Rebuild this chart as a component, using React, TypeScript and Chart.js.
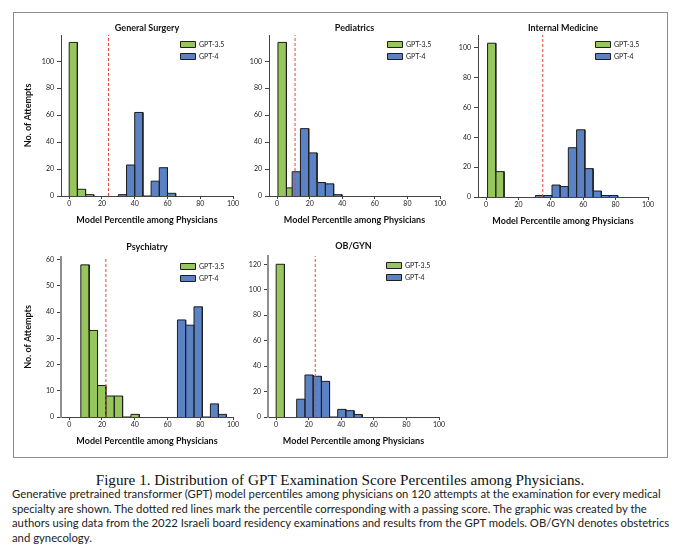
import React, { useEffect, useRef } from 'react';
import { Chart, registerables } from 'chart.js';

Chart.register(...registerables);

// ---------- data ----------
const SERIES_LABELS = ['GPT-3.5', 'GPT-4'];
const PANEL_TITLES = ['General Surgery', 'Pediatrics', 'Internal Medicine', 'Psychiatry', 'OB/GYN'];
const Y_AXIS_TITLE = 'No. of Attempts';
const X_AXIS_TITLE = 'Model Percentile among Physicians';
const X_RANGE = [-5, 100];
const X_TICKS = [0, 20, 40, 60, 80, 100];
const Y_MAX = [119.5, 119.5, 108.5, 61, 126.5];
const Y_TICKS_100 = [0, 20, 40, 60, 80, 100];
const Y_TICKS_60 = [0, 10, 20, 30, 40, 50, 60];
const Y_TICKS_120 = [0, 20, 40, 60, 80, 100, 120];
const Y_TICKS = [Y_TICKS_100, Y_TICKS_100, Y_TICKS_100, Y_TICKS_60, Y_TICKS_120];

// General Surgery
const surgeryGpt35Edges = [0, 5, 10, 15];
const surgeryGpt35Counts = [114, 5, 1];
const surgeryGpt4Edges = [30, 35, 40, 45, 50, 55, 60, 65];
const surgeryGpt4Counts = [1, 23, 62, 0, 11, 21, 2];
const surgeryPass = 24;

// Pediatrics
const pediatricsGpt35Edges = [0.5, 5.7, 10.9];
const pediatricsGpt35Counts = [114, 6];
const pediatricsGpt4Edges = [9.2, 14.3, 19.4, 24.5, 29.6, 34.7, 39.8];
const pediatricsGpt4Counts = [18, 50, 32, 10, 9, 1];
const pediatricsPass = 11;

// Internal Medicine
const internalGpt35Edges = [0.9, 6, 11.1];
const internalGpt35Counts = [103, 17];
const internalGpt4Edges = [30.5, 35.6, 40.7, 45.7, 50.8, 55.9, 61, 66.1, 71.2, 76.2, 81.3];
const internalGpt4Counts = [1, 1, 8, 7, 33, 45, 19, 4, 1, 1];
const internalPass = 35;

// Psychiatry
const psychiatryGpt35Edges = [7.1, 12.2, 17.3, 22.4, 27.5, 32.6, 37.7, 42.8];
const psychiatryGpt35Counts = [58, 33, 12, 8, 8, 0, 1];
const psychiatryGpt4Edges = [66.1, 71.1, 76.2, 81.3, 86.2, 91.1, 96];
const psychiatryGpt4Counts = [37, 35, 42, 0, 5, 1];
const psychiatryPass = 22.4;

// OB/GYN
const obgynGpt35Edges = [0, 5.1];
const obgynGpt35Counts = [120];
const obgynGpt4Edges = [12.6, 17.7, 22.7, 27.8, 32.8, 37.8, 42.8, 47.8, 52.8];
const obgynGpt4Counts = [14, 33, 32, 28, 0, 6, 5, 2];
const obgynPass = 24;

const PANEL_DATA = [
  { e35: surgeryGpt35Edges, c35: surgeryGpt35Counts, e4: surgeryGpt4Edges, c4: surgeryGpt4Counts, pass: surgeryPass },
  { e35: pediatricsGpt35Edges, c35: pediatricsGpt35Counts, e4: pediatricsGpt4Edges, c4: pediatricsGpt4Counts, pass: pediatricsPass },
  { e35: internalGpt35Edges, c35: internalGpt35Counts, e4: internalGpt4Edges, c4: internalGpt4Counts, pass: internalPass },
  { e35: psychiatryGpt35Edges, c35: psychiatryGpt35Counts, e4: psychiatryGpt4Edges, c4: psychiatryGpt4Counts, pass: psychiatryPass },
  { e35: obgynGpt35Edges, c35: obgynGpt35Counts, e4: obgynGpt4Edges, c4: obgynGpt4Counts, pass: obgynPass },
];

// ---------- layout / style ----------
// target plot-area rectangles in page pixels
const PANEL_BOXES = [
  { L: 61, T: 35, R: 233, B: 196, yTitle: true, yAxisColor: '#444', yAxisWidth: 1, titleGap: 1.6 },
  { L: 269, T: 35, R: 440, B: 196, yTitle: false, yAxisColor: '#444', yAxisWidth: 1, titleGap: 1.6 },
  { L: 478, T: 35, R: 648, B: 197, yTitle: false, yAxisColor: '#444', yAxisWidth: 1, titleGap: 1.6 },
  { L: 61, T: 257, R: 233, B: 417, yTitle: true, yAxisColor: '#8f8f8f', yAxisWidth: 2, titleGap: 5 },
  { L: 268, T: 256, R: 439, B: 417, yTitle: false, yAxisColor: '#8f8f8f', yAxisWidth: 2, titleGap: 5 },
];

const GREEN = '#97c65c';
const BLUE = '#5a82c4';
const EDGE = '#1e1e1e';
const RED = '#e6473d';
const FONT = 'Lato, "Open Sans", sans-serif';

const CAPTION_TITLE = 'Figure 1. Distribution of GPT Examination Score Percentiles among Physicians.';
const CAPTION_LINES = [
  'Generative pretrained transformer (GPT) model percentiles among physicians on 120 attempts at the examination for every medical',
  'specialty are shown. The dotted red lines mark the percentile corresponding with a passing score. The graphic was created by the',
  'authors using data from the 2022 Israeli board residency examinations and results from the GPT models. OB/GYN denotes obstetrics',
  'and gynecology.',
];

function histPoints(edges: number[], counts: number[]) {
  const pts: { x: number; y: number }[] = [];
  for (let i = 0; i < counts.length; i++) {
    pts.push({ x: edges[i], y: 0 });
    pts.push({ x: edges[i], y: counts[i] });
    pts.push({ x: edges[i + 1], y: counts[i] });
    pts.push({ x: edges[i + 1], y: 0 });
  }
  return pts;
}

const placeBoxesPlugin = {
  id: 'placeBoxes',
  afterLayout(chart: any) {
    const ca = chart.chartArea;
    const t = chart.titleBlock;
    if (t) {
      t.left = ca.left;
      t.right = ca.right;
      t.width = ca.right - ca.left;
    }
    const lg = chart.legend;
    if (lg) {
      const w = lg.width;
      lg.left = ca.right - 57.5;
      lg.right = lg.left + w;
      lg.width = w;
      lg.top = ca.top + 1;
      lg.height = 40;
      lg.bottom = lg.top + 40;
    }
  },
};

function Panel({ index }: { index: number }) {
  const ref = useRef<HTMLCanvasElement>(null);
  const box = PANEL_BOXES[index];
  const d = PANEL_DATA[index];
  const width = box.R - box.L + 56;
  const height = box.B - box.T + 51;

  useEffect(() => {
    const yMax = Y_MAX[index];
    const yTicks = Y_TICKS[index];
    const chart = new Chart(ref.current!, {
      type: 'line',
      data: {
        datasets: [
          {
            label: SERIES_LABELS[0],
            data: histPoints(d.e35, d.c35),
            backgroundColor: GREEN,
            borderColor: EDGE,
            borderWidth: 1,
            fill: 'origin',
            pointRadius: 0,
            tension: 0,
            order: 2,
          },
          {
            label: SERIES_LABELS[1],
            data: histPoints(d.e4, d.c4),
            backgroundColor: BLUE,
            borderColor: EDGE,
            borderWidth: 1,
            fill: 'origin',
            pointRadius: 0,
            tension: 0,
            order: 1,
          },
          {
            label: 'pass',
            data: [
              { x: d.pass, y: 0 },
              { x: d.pass, y: yMax },
            ],
            borderColor: RED,
            backgroundColor: RED,
            borderWidth: 1,
            borderDash: [3, 2],
            fill: false,
            pointRadius: 0,
            order: 0,
          },
        ],
      },
      options: {
        responsive: false,
        animation: false,
        devicePixelRatio: 1,
        layout: { padding: { left: 6, right: 12, top: 9.2 - box.titleGap, bottom: 2 } },
        plugins: {
          tooltip: { enabled: false },
          title: {
            display: true,
            text: PANEL_TITLES[index],
            color: '#111',
            font: { family: FONT, size: 9, weight: 'bold' },
            padding: { top: 0, bottom: box.titleGap },
          },
          legend: {
            display: true,
            position: 'chartArea',
            align: 'start',
            labels: {
              boxWidth: 15,
              boxHeight: 6,
              padding: 5,
              color: '#222',
              font: { family: FONT, size: 7 },
              filter: (item: any) => item.datasetIndex < 2,
              sort: (a: any, b: any) => a.datasetIndex - b.datasetIndex,
            },
          },
        },
        scales: {
          x: {
            type: 'linear',
            min: X_RANGE[0],
            max: X_RANGE[1],
            bounds: 'data',
            afterBuildTicks: (s: any) => {
              s.ticks = X_TICKS.map((v) => ({ value: v }));
            },
            ticks: {
              autoSkip: false,
              padding: 1,
              maxRotation: 0,
              color: '#222',
              font: { family: FONT, size: 7 },
            },
            grid: { display: true, drawOnChartArea: false, drawTicks: true, tickLength: 3, color: '#444' },
            border: { display: true, color: '#444', width: 1 },
            title: {
              display: true,
              text: X_AXIS_TITLE,
              color: '#111',
              font: { family: FONT, size: 9, weight: 'bold' },
              padding: { top: 0, bottom: 0 },
            },
            afterFit: (s: any) => {
              s.height = 29;
            },
          },
          y: {
            type: 'linear',
            min: 0,
            max: yMax,
            bounds: 'data',
            afterBuildTicks: (s: any) => {
              s.ticks = yTicks.map((v) => ({ value: v }));
            },
            ticks: {
              autoSkip: false,
              padding: 3,
              color: '#222',
              font: { family: FONT, size: 7 },
            },
            grid: { display: true, drawOnChartArea: false, drawTicks: true, tickLength: 4, color: '#444' },
            border: { display: true, color: box.yAxisColor, width: box.yAxisWidth },
            title: {
              display: box.yTitle,
              text: Y_AXIS_TITLE,
              color: '#111',
              font: { family: FONT, size: 9, weight: 'bold' },
              padding: { top: 0, bottom: 0 },
            },
            afterFit: (s: any) => {
              s.width = 38;
            },
          },
        },
      } as any,
      plugins: [placeBoxesPlugin],
    });
    return () => chart.destroy();
  }, [index]);

  return (
    <canvas
      ref={ref}
      width={width}
      height={height}
      style={{ position: 'absolute', left: box.L - 44, top: box.T - 20, width, height }}
    />
  );
}

export default function App() {
  return (
    <div
      style={{
        position: 'absolute',
        left: 0,
        top: 0,
        width: 680,
        height: 557,
        background: '#fff',
        overflow: 'hidden',
      }}
    >
      <div
        style={{
          position: 'absolute',
          left: 13,
          top: 12,
          width: 655,
          height: 446,
          border: '1.5px solid #8c8c8c',
          boxSizing: 'border-box',
        }}
      />
      {PANEL_TITLES.map((_, i) => (
        <Panel key={i} index={i} />
      ))}
      <div
        style={{
          position: 'absolute',
          left: 0,
          width: 680,
          top: 471,
          textAlign: 'center',
          fontFamily: '"Liberation Serif", "Times New Roman", serif',
          fontSize: 15.2,
          lineHeight: '18px',
          color: '#111',
          whiteSpace: 'nowrap',
        }}
      >
        {CAPTION_TITLE}
      </div>
      {CAPTION_LINES.map((line, i) => (
        <div
          key={i}
          style={{
            position: 'absolute',
            left: 12,
            top: 487 + i * 14.5,
            fontFamily: FONT,
            fontSize: 11.3,
            lineHeight: '14px',
            color: '#222',
            whiteSpace: 'nowrap',
          }}
        >
          {line}
        </div>
      ))}
    </div>
  );
}
